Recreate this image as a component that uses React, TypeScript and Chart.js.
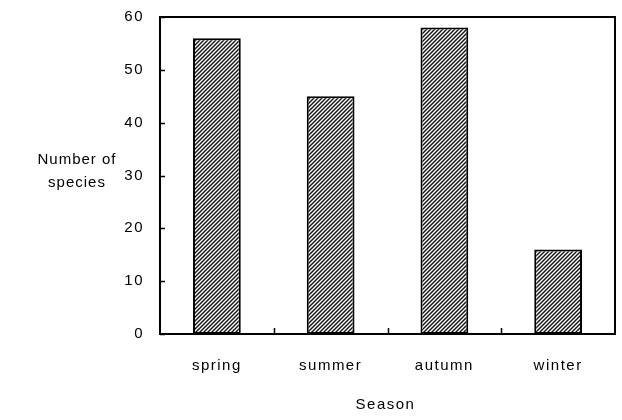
import React, { useEffect, useRef } from "react";
import { Chart, registerables } from "chart.js";

Chart.register(...registerables);

const categories = ["spring", "summer", "autumn", "winter"];
const speciesCounts = [56, 45, 58, 16];
const yTicks = [0, 10, 20, 30, 40, 50, 60];
const yTitle = ["Number of", "species"];
const xTitle = "Season";

function makePattern(): CanvasPattern | string {
  const c = document.createElement("canvas");
  const s = 4;
  c.width = s;
  c.height = s;
  const ctx = c.getContext("2d");
  if (!ctx) return "#555";
  ctx.fillStyle = "#ffffff";
  ctx.fillRect(0, 0, s, s);
  ctx.strokeStyle = "#111";
  ctx.lineWidth = 1.4;
  ctx.beginPath();
  ctx.moveTo(-1, s + 1);
  ctx.lineTo(s + 1, -1);
  ctx.moveTo(-1, 1);
  ctx.lineTo(1, -1);
  ctx.moveTo(s - 1, s + 1);
  ctx.lineTo(s + 1, s - 1);
  ctx.stroke();
  const p = ctx.createPattern(c, "repeat");
  return p || "#555";
}

const FONT = "Arial, 'Liberation Sans', sans-serif";
const SPACING = "1.5px";

export default function App() {
  const ref = useRef<HTMLCanvasElement>(null);
  useEffect(() => {
    document.body.style.margin = "0";
    const canvas = ref.current;
    if (!canvas) return;
    const decor = {
      id: "decor",
      beforeInit(chart: any) {
        chart.ctx.letterSpacing = SPACING;
      },
      beforeUpdate(chart: any) {
        chart.ctx.letterSpacing = SPACING;
      },
      beforeDraw(chart: any) {
        chart.ctx.letterSpacing = SPACING;
      },
      afterDraw(chart: any) {
        const ctx = chart.ctx;
        const a = chart.chartArea;
        const y = chart.scales.y;
        const x = chart.scales.x;
        ctx.save();
        ctx.strokeStyle = "#000";
        ctx.lineWidth = 2;
        ctx.strokeRect(a.left, a.top, a.right - a.left, a.bottom - a.top);
        ctx.lineWidth = 1.5;
        ctx.beginPath();
        yTicks.forEach((v) => {
          const py = Math.round(y.getPixelForValue(v)) + 0.5;
          ctx.moveTo(a.left, py);
          ctx.lineTo(a.left + 5, py);
        });
        for (let i = 0; i < categories.length - 1; i++) {
          const px =
            Math.round((x.getPixelForValue(i) + x.getPixelForValue(i + 1)) / 2) + 0.5;
          ctx.moveTo(px, a.bottom);
          ctx.lineTo(px, a.bottom - 6);
        }
        ctx.stroke();
        ctx.fillStyle = "#000";
        ctx.letterSpacing = "1px";
        ctx.font = `15px ${FONT}`;
        ctx.textAlign = "center";
        ctx.textBaseline = "middle";
        ctx.fillText(yTitle[0], 77, 160);
        ctx.fillText(yTitle[1], 77, 183);
        ctx.letterSpacing = SPACING;
        ctx.fillText(xTitle, (a.left + a.right) / 2 - 2, 405);
        ctx.restore();
      },
    };
    const chart = new Chart(canvas, {
      type: "bar",
      data: {
        labels: categories,
        datasets: [
          {
            data: speciesCounts,
            backgroundColor: makePattern() as any,
            borderColor: "#000",
            borderWidth: 2,
            borderSkipped: false,
            barPercentage: 0.42,
            categoryPercentage: 1,
          },
        ],
      },
      options: {
        animation: false,
        responsive: false,
        layout: { padding: { top: 17, right: 7, left: 0, bottom: 0 } },
        plugins: { legend: { display: false }, tooltip: { enabled: false } },
        scales: {
          x: {
            grid: { display: false, drawTicks: false },
            border: { display: false },
            ticks: { color: "#000", font: { size: 15, family: FONT }, padding: 23 },
            afterFit(s: any) {
              s.height = 86;
              s.paddingLeft = 0;
              s.paddingRight = 0;
            },
          },
          y: {
            min: 0,
            max: 60,
            grid: { display: false, drawTicks: false },
            border: { display: false },
            ticks: {
              stepSize: 10,
              color: "#000",
              font: { size: 15, family: FONT },
              padding: 16,
            },
            afterFit(s: any) {
              s.width = 160;
              s.paddingTop = 0;
              s.paddingBottom = 0;
            },
          },
        },
      },
      plugins: [decor],
    });
    return () => chart.destroy();
  }, []);
  return (
    <div style={{ width: 622, height: 420, background: "#fff" }}>
      <canvas ref={ref} width={622} height={420} />
    </div>
  );
}
